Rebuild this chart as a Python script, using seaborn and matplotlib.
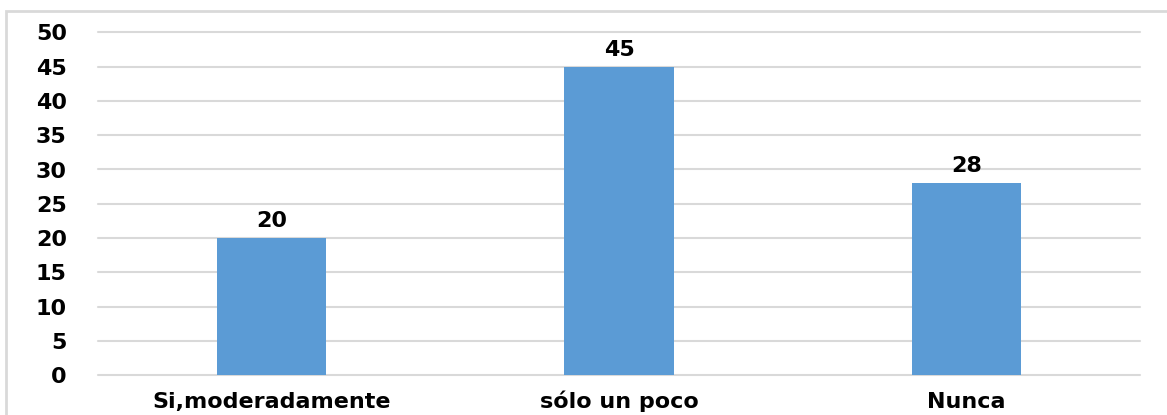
import matplotlib
matplotlib.use("Agg")
import matplotlib.pyplot as plt
import pandas as pd
import seaborn as sns
from matplotlib.patches import Rectangle

categories = ["Si,moderadamente", "sólo un poco", "Nunca"]
values = [20, 45, 28]
y_ticks = [0, 5, 10, 15, 20, 25, 30, 35, 40, 45, 50]

sns.set_theme(style="white")
plt.rcParams["font.family"] = ["DejaVu Sans"]
plt.rcParams["font.weight"] = "bold"

df = pd.DataFrame({"categoria": categories, "valor": values})

fig = plt.figure(figsize=(11.67, 4.15), dpi=100)
fig.patch.set_facecolor("white")
ax = fig.add_axes([98 / 1167, 1 - 375 / 415, (1140 - 98) / 1167, (375 - 32.5) / 415])

sns.barplot(data=df, x="categoria", y="valor", color="#5B9BD5", saturation=1,
            width=0.314, linewidth=0, ax=ax, zorder=3)

ax.set_ylim(0, 50)
ax.set_xlim(-0.5, len(categories) - 0.5)
ax.set_yticks(y_ticks)
ax.yaxis.grid(True, color="#d9d9d9", linewidth=1.5, zorder=0)
for gl in ax.get_ygridlines():
    gl.set_clip_on(False)
ax.set_axisbelow(True)
for s in ax.spines.values():
    s.set_visible(False)
ax.set_xlabel("")
ax.set_ylabel("")
ax.tick_params(axis="y", length=0, pad=22.5, labelsize=16)
ax.tick_params(axis="x", length=0, pad=24, labelsize=16)
for lbl in ax.get_xticklabels():
    lbl.set_verticalalignment("baseline")
for lbl in ax.get_xticklabels() + ax.get_yticklabels():
    lbl.set_fontweight("bold")
    lbl.set_color("black")

for i, v in enumerate(values):
    ax.annotate(str(v), (i, v), xytext=(0, 5), textcoords="offset points",
                ha="center", va="bottom", fontsize=16, fontweight="bold", color="black")

# light outer frame like the source screenshot
fig.patches.append(Rectangle((6 / 1167, -0.1), 1.2, 1 - 11.5 / 415 + 0.1,
                             transform=fig.transFigure, fill=False,
                             edgecolor="#d9d9d9", linewidth=2))

fig.savefig("out.png", dpi=100, facecolor="white")
